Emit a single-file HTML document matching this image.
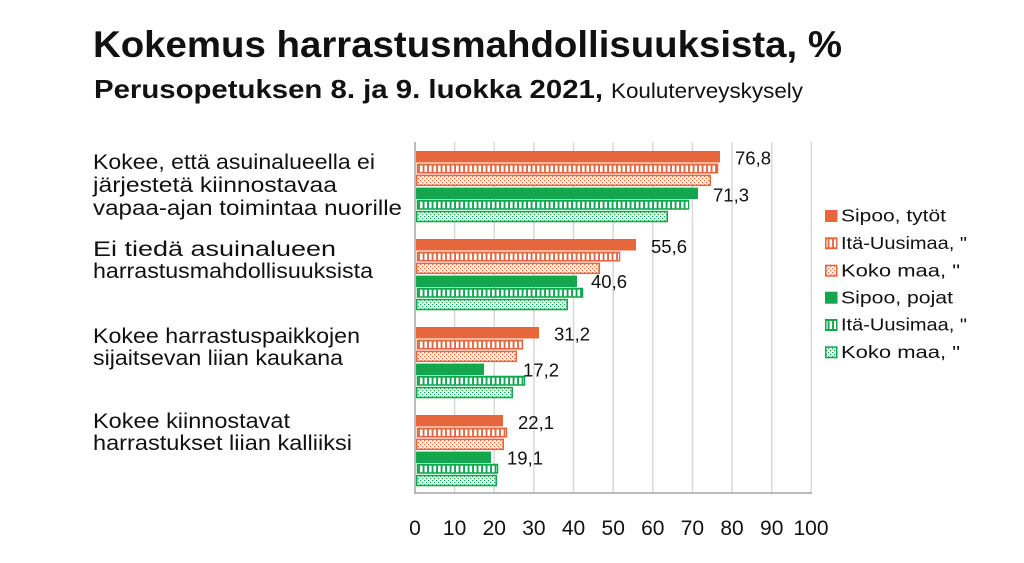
<!DOCTYPE html>
<html><head><meta charset="utf-8"><style>
html,body{margin:0;padding:0;background:#fff;}
svg{display:block;}
text{font-family:"Liberation Sans",sans-serif;fill:#111;}
</style></head><body>
<svg width="1024" height="563" viewBox="0 0 1024 563" xmlns="http://www.w3.org/2000/svg">
<defs>
<pattern id="so" width="4.5" height="20" patternUnits="userSpaceOnUse"><rect x="1.5" y="0" width="2.6" height="20" fill="#fff"/></pattern>
<pattern id="sg" width="4.5" height="20" patternUnits="userSpaceOnUse"><rect x="1.5" y="0" width="2.6" height="20" fill="#fff"/></pattern>
<pattern id="do" width="4" height="4" patternUnits="userSpaceOnUse"><rect width="4" height="4" fill="#fcefe8"/><rect x="0" y="0" width="1.2" height="1.2" fill="#e5673b"/><rect x="2" y="2" width="1.2" height="1.2" fill="#e5673b"/></pattern>
<pattern id="dg" width="4" height="4" patternUnits="userSpaceOnUse"><rect width="4" height="4" fill="#e9f7ee"/><rect x="0" y="0" width="1.2" height="1.2" fill="#12a64f"/><rect x="2" y="2" width="1.2" height="1.2" fill="#12a64f"/></pattern>
</defs>

<!-- titles -->
<text x="93" y="57" font-size="37" font-weight="bold" textLength="749" lengthAdjust="spacingAndGlyphs">Kokemus harrastusmahdollisuuksista, %</text>
<text x="94" y="98" font-size="26" font-weight="bold" textLength="509" lengthAdjust="spacingAndGlyphs">Perusopetuksen 8. ja 9. luokka 2021,</text>
<text x="611" y="98" font-size="21" textLength="192" lengthAdjust="spacingAndGlyphs">Kouluterveyskysely</text>

<!-- category labels -->
<g font-size="21">
<text x="93" y="169" textLength="282" lengthAdjust="spacingAndGlyphs">Kokee, että asuinalueella ei</text>
<text x="93" y="192" textLength="244" lengthAdjust="spacingAndGlyphs">järjestetä kiinnostavaa</text>
<text x="93" y="215" textLength="309" lengthAdjust="spacingAndGlyphs">vapaa-ajan toimintaa nuorille</text>
<text x="93" y="256" textLength="243" lengthAdjust="spacingAndGlyphs">Ei tiedä asuinalueen</text>
<text x="93" y="278" textLength="280" lengthAdjust="spacingAndGlyphs">harrastusmahdollisuuksista</text>
<text x="93" y="343" textLength="267" lengthAdjust="spacingAndGlyphs">Kokee harrastuspaikkojen</text>
<text x="93" y="365" textLength="250" lengthAdjust="spacingAndGlyphs">sijaitsevan liian kaukana</text>
<text x="93" y="428" textLength="197" lengthAdjust="spacingAndGlyphs">Kokee kiinnostavat</text>
<text x="93" y="450" textLength="259" lengthAdjust="spacingAndGlyphs">harrastukset liian kalliiksi</text>
</g>

<!-- gridlines -->
<g stroke="#d9d9d9" stroke-width="1.5">
<line x1="454.6" y1="142" x2="454.6" y2="493"/>
<line x1="494.3" y1="142" x2="494.3" y2="493"/>
<line x1="533.9" y1="142" x2="533.9" y2="493"/>
<line x1="573.5" y1="142" x2="573.5" y2="493"/>
<line x1="613.2" y1="142" x2="613.2" y2="493"/>
<line x1="652.8" y1="142" x2="652.8" y2="493"/>
<line x1="692.4" y1="142" x2="692.4" y2="493"/>
<line x1="732" y1="142" x2="732" y2="493"/>
<line x1="771.7" y1="142" x2="771.7" y2="493"/>
<line x1="811.3" y1="142" x2="811.3" y2="493"/>
</g>
<line x1="415" y1="142" x2="415" y2="494" stroke="#a6a6a6" stroke-width="1.5"/>
<line x1="415" y1="493" x2="812" y2="493" stroke="#a6a6a6" stroke-width="1.5"/>

<!-- bars: group 1 -->
<g>
<rect x="416" y="151" width="304" height="11.5" fill="#e5673b"/>
<rect x="416.75" y="163.55" width="301.5" height="10" fill="#e5673b"/><rect x="418" y="165.5" width="299" height="6.5" fill="url(#so)"/>
<rect x="416.75" y="175.35" width="293.5" height="10" fill="url(#do)" stroke="#e5673b" stroke-width="1.5"/>
<rect x="416" y="187.6" width="282" height="11.5" fill="#12a64f"/>
<rect x="416.75" y="199.75" width="272.5" height="10" fill="#12a64f"/><rect x="418" y="201.7" width="270" height="6.5" fill="url(#sg)"/>
<rect x="416.75" y="211.55" width="250.5" height="10" fill="url(#dg)" stroke="#12a64f" stroke-width="1.5"/>
</g>
<!-- group 2 -->
<g>
<rect x="416" y="239" width="220" height="11.5" fill="#e5673b"/>
<rect x="416.75" y="251.55" width="203.5" height="10" fill="#e5673b"/><rect x="418" y="253.5" width="201" height="6.5" fill="url(#so)"/>
<rect x="416.75" y="263.35" width="182.5" height="10" fill="url(#do)" stroke="#e5673b" stroke-width="1.5"/>
<rect x="416" y="275.6" width="161" height="11.5" fill="#12a64f"/>
<rect x="416.75" y="287.75" width="166.5" height="10" fill="#12a64f"/><rect x="418" y="289.7" width="164" height="6.5" fill="url(#sg)"/>
<rect x="416.75" y="299.55" width="150.5" height="10" fill="url(#dg)" stroke="#12a64f" stroke-width="1.5"/>
</g>
<!-- group 3 -->
<g>
<rect x="416" y="327" width="123" height="11.5" fill="#e5673b"/>
<rect x="416.75" y="339.55" width="106.5" height="10" fill="#e5673b"/><rect x="418" y="341.5" width="104" height="6.5" fill="url(#so)"/>
<rect x="416.75" y="351.35" width="99.5" height="10" fill="url(#do)" stroke="#e5673b" stroke-width="1.5"/>
<rect x="416" y="363.6" width="68" height="11.5" fill="#12a64f"/>
<rect x="416.75" y="375.75" width="108.5" height="10" fill="#12a64f"/><rect x="418" y="377.7" width="106" height="6.5" fill="url(#sg)"/>
<rect x="416.75" y="387.55" width="95.5" height="10" fill="url(#dg)" stroke="#12a64f" stroke-width="1.5"/>
</g>
<!-- group 4 -->
<g>
<rect x="416" y="415" width="87" height="11.5" fill="#e5673b"/>
<rect x="416.75" y="427.55" width="90.5" height="10" fill="#e5673b"/><rect x="418" y="429.5" width="88" height="6.5" fill="url(#so)"/>
<rect x="416.75" y="439.35" width="86.5" height="10" fill="url(#do)" stroke="#e5673b" stroke-width="1.5"/>
<rect x="416" y="451.6" width="75" height="11.5" fill="#12a64f"/>
<rect x="416.75" y="463.75" width="81.5" height="10" fill="#12a64f"/><rect x="418" y="465.7" width="79" height="6.5" fill="url(#sg)"/>
<rect x="416.75" y="475.55" width="79.5" height="10" fill="url(#dg)" stroke="#12a64f" stroke-width="1.5"/>
</g>

<!-- value labels -->
<g font-size="18.5">
<text x="735" y="164.5">76,8</text>
<text x="713" y="201.5">71,3</text>
<text x="651" y="253">55,6</text>
<text x="591" y="288">40,6</text>
<text x="554" y="340.5">31,2</text>
<text x="523" y="376.5">17,2</text>
<text x="518" y="429">22,1</text>
<text x="507" y="464.5">19,1</text>
</g>

<!-- x axis labels -->
<g font-size="21" text-anchor="middle">
<text x="415" y="535">0</text>
<text x="454.6" y="535">10</text>
<text x="494.3" y="535">20</text>
<text x="533.9" y="535">30</text>
<text x="573.5" y="535">40</text>
<text x="613.2" y="535">50</text>
<text x="652.8" y="535">60</text>
<text x="692.4" y="535">70</text>
<text x="732" y="535">80</text>
<text x="771.7" y="535">90</text>
<text x="811" y="535">100</text>
</g>

<!-- legend -->
<g font-size="17.5">
<rect x="825" y="210" width="12.5" height="12" fill="#e5673b"/>
<text x="841" y="221.7" textLength="105" lengthAdjust="spacingAndGlyphs">Sipoo, tytöt</text>
<rect x="825" y="237.3" width="12.5" height="12" fill="#e5673b"/><rect x="826.5" y="239.3" width="9.5" height="8" fill="url(#so)"/>
<text x="841" y="249" textLength="126" lengthAdjust="spacingAndGlyphs">Itä-Uusimaa, "</text>
<rect x="825.75" y="265.45" width="11" height="10.5" fill="url(#do)" stroke="#e5673b" stroke-width="1.5"/>
<text x="841" y="276.4" textLength="119" lengthAdjust="spacingAndGlyphs">Koko maa, "</text>
<rect x="825" y="291.7" width="12.5" height="12" fill="#12a64f"/>
<text x="841" y="303.4" textLength="112" lengthAdjust="spacingAndGlyphs">Sipoo, pojat</text>
<rect x="825" y="319" width="12.5" height="12" fill="#12a64f"/><rect x="826.5" y="321" width="9.5" height="8" fill="url(#sg)"/>
<text x="841" y="330.7" textLength="126" lengthAdjust="spacingAndGlyphs">Itä-Uusimaa, "</text>
<rect x="825.75" y="347.05" width="11" height="10.5" fill="url(#dg)" stroke="#12a64f" stroke-width="1.5"/>
<text x="841" y="358" textLength="119" lengthAdjust="spacingAndGlyphs">Koko maa, "</text>
</g>
</svg>
</body></html>
